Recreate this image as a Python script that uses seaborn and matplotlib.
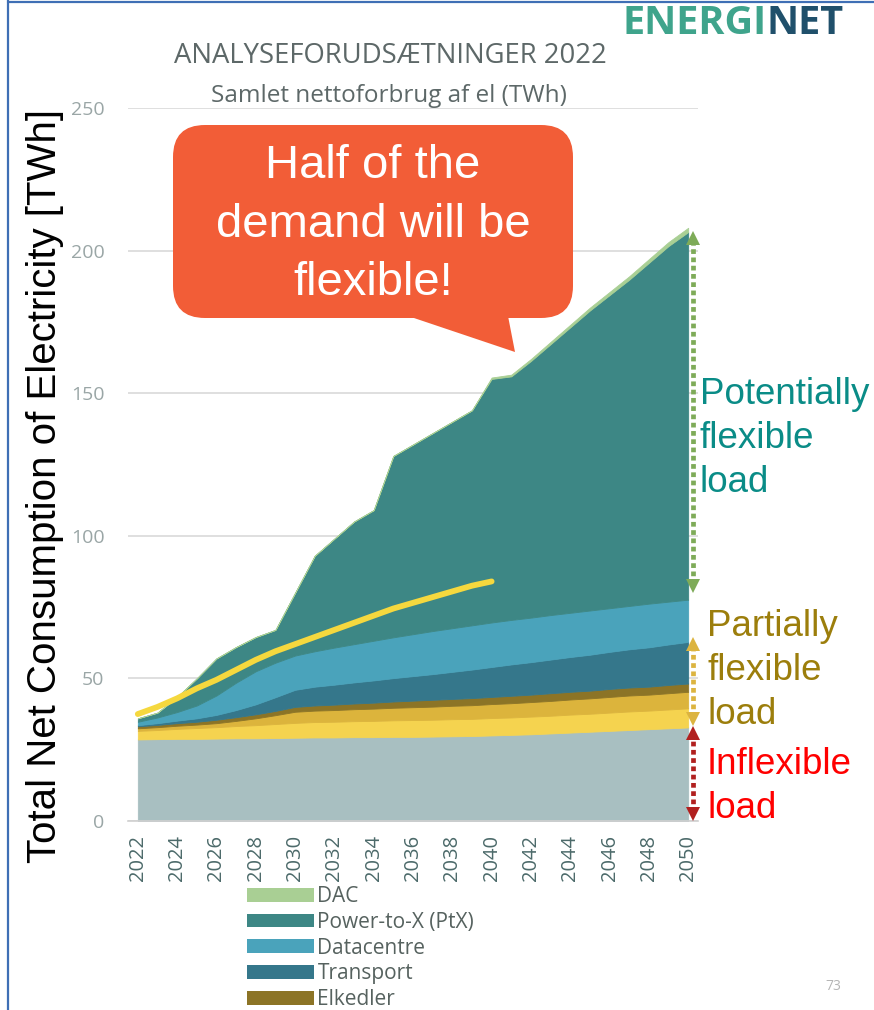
import matplotlib
matplotlib.use("Agg")
import matplotlib.pyplot as plt
import seaborn as sns
import pandas as pd
from matplotlib.patches import FancyBboxPatch, Polygon, Patch
from matplotlib.ticker import FixedLocator

# ---------------- data (TWh) ----------------
years = list(range(2022, 2051))
klassisk = [28.6, 28.7, 28.8, 28.8, 28.9, 29.0, 29.0, 29.1, 29.2, 29.3, 29.3, 29.4, 29.4, 29.5, 29.5,
            29.6, 29.7, 29.8, 30.0, 30.2, 30.4, 30.7, 31.0, 31.3, 31.6, 31.9, 32.2, 32.5, 32.8]
ind_varmepumper = [3.0, 3.2, 3.5, 3.8, 4.0, 4.3, 4.6, 4.9, 5.2, 5.4, 5.5, 5.6, 5.7, 5.8, 5.9,
                   5.9, 6.0, 6.0, 6.1, 6.1, 6.2, 6.2, 6.3, 6.3, 6.4, 6.5, 6.5, 6.6, 6.7]
fjv_varmepumper = [0.9, 1.0, 1.1, 1.2, 1.4, 1.8, 2.4, 3.1, 3.9, 4.0, 4.1, 4.2, 4.3, 4.4, 4.5,
                   4.6, 4.7, 4.8, 4.9, 5.0, 5.1, 5.2, 5.3, 5.4, 5.5, 5.6, 5.6, 5.7, 5.8]
elkedler = [0.7, 0.8, 0.9, 1.0, 1.2, 1.3, 1.4, 1.5, 1.7, 1.8, 1.9, 2.0, 2.1, 2.2, 2.3,
            2.4, 2.4, 2.5, 2.5, 2.6, 2.6, 2.7, 2.7, 2.7, 2.8, 2.8, 2.8, 2.9, 2.9]
transport = [0.4, 0.6, 0.9, 1.2, 1.7, 2.5, 3.5, 4.8, 6.0, 6.6, 7.0, 7.4, 7.8, 8.2, 8.6,
             9.0, 9.5, 10.0, 10.5, 11.0, 11.4, 11.8, 12.2, 12.6, 13.0, 13.4, 13.8, 14.2, 14.6]
datacentre = [1.2, 2.0, 3.0, 4.5, 6.8, 9.6, 11.6, 12.1, 12.0, 12.4, 13.0, 13.4, 13.9, 14.3, 14.7,
              15.1, 15.3, 15.5, 15.6, 15.6, 15.6, 15.6, 15.5, 15.5, 15.3, 15.2, 15.3, 15.0, 14.8]
ptx = [1.2, 1.7, 5.3, 9.5, 13.0, 12.5, 12.0, 11.5, 22.0, 33.5, 38.2, 43.0, 45.8, 63.6, 66.5,
       69.4, 72.4, 75.4, 85.4, 85.4, 90.0, 95.0, 100.1, 105.2, 109.8, 114.4, 119.5, 124.7, 128.9]
dac = [0.0, 0.0, 0.0, 0.0, 0.0, 0.0, 0.0, 0.0, 0.0, 0.0, 0.0, 0.0, 0.0, 0.0, 0.0,
       0.0, 0.0, 0.0, 0.5, 0.6, 0.7, 0.8, 0.9, 1.0, 1.1, 1.2, 1.3, 1.4, 1.5]

line_years = list(range(2022, 2041))
line_values = [37.5, 40.0, 43.0, 46.5, 49.5, 53.0, 56.5, 59.5, 62.0, 64.5, 67.0, 69.5,
               72.0, 74.5, 76.5, 78.5, 80.5, 82.5, 84.0]

layer_names = ["Klassisk forbrug", "Individuelle varmepumper", "Fjernvarme varmepumper",
               "Elkedler", "Transport", "Datacentre", "Power-to-X (PtX)", "DAC"]
layer_colors = ["#a8bfc1", "#f5d34f", "#dcb43c", "#8c7426", "#35778b", "#4aa3bb", "#3d8785", "#a9cf94"]
legend_names = ["DAC", "Power-to-X (PtX)", "Datacentre", "Transport", "Elkedler"]
xtick_years = list(range(2022, 2051, 2))
ytick_vals = [0, 50, 100, 150, 200, 250]

# ---------------- style ----------------
sns.set_theme(style="white")
plt.rcParams["font.family"] = ["Open Sans", "DejaVu Sans"]

W, H = 874, 1010
fig = plt.figure(figsize=(W / 100, H / 100), dpi=100)
fig.patch.set_facecolor("white")

def fx(px):
    return px / W

def fy(py):
    return 1 - py / H

ax = fig.add_axes([fx(128), fy(821), fx(698) - fx(128), fy(108) - fy(821)])
ax.set_facecolor("white")

layers = [klassisk, ind_varmepumper, fjv_varmepumper, elkedler, transport, datacentre, ptx, dac]
stack = ax.stackplot(years, *layers, colors=layer_colors, labels=layer_names, zorder=2)
for poly, c in zip(stack, layer_colors):
    poly.set_edgecolor(c)
    poly.set_linewidth(0.6)

df_line = pd.DataFrame({"year": line_years, "value": line_values})
sns.lineplot(data=df_line, x="year", y="value", ax=ax, color="#f5d83e", linewidth=4.2,
             solid_capstyle="round", zorder=4, legend=False)

ax.set_xlim(2021.5, 2050.5)
ax.set_ylim(0, 250)
ax.set_xlabel("")
ax.set_ylabel("")

ax.set_xticks(xtick_years)
ax.set_xticklabels([str(y) for y in xtick_years], rotation=90, color="#4c6a6a", fontsize=14.5)
ax.xaxis.set_minor_locator(FixedLocator([2021.5 + k for k in range(30)]))
ax.tick_params(axis="x", which="major", length=0, pad=10)
ax.tick_params(axis="x", which="minor", length=7, width=1, color="#cfcfcf", direction="out")
ax.set_yticks(ytick_vals)
ax.set_yticklabels([str(v) for v in ytick_vals], color="#9aa6a6", fontsize=14)
ax.tick_params(axis="y", length=0, pad=17)

ax.grid(axis="y", color="#d9d9d9", linewidth=1.2)
ax.grid(axis="x", visible=False)
ax.set_axisbelow(True)
for s in ["left", "right", "top"]:
    ax.spines[s].set_visible(False)
ax.spines["bottom"].set_color("#d0d0d0")
ax.spines["bottom"].set_linewidth(1.2)

# flexibility range arrows (data coordinates, right edge of chart)
xa = 2050.27
def dotted_arrow(y_top, y_bot, color):
    ax.plot([xa, xa], [y_bot + 2.5, y_top - 2.5], color=color, lw=3.4,
            linestyle=(0, (1.0, 0.75)), dash_capstyle="butt", clip_on=False, zorder=6)
    ax.plot([xa], [y_top - 2.0], marker="^", ms=10, color=color, clip_on=False, zorder=7,
            markeredgewidth=0)
    ax.plot([xa], [y_bot + 2.0], marker="v", ms=10, color=color, clip_on=False, zorder=7,
            markeredgewidth=0)

dotted_arrow(206.5, 80.5, "#7eab58")
dotted_arrow(64.0, 33.8, "#dcb440")
dotted_arrow(32.8, 0.6, "#b1201f")

# ---------------- overlay in pixel coordinates ----------------
ov = fig.add_axes([0, 0, 1, 1], zorder=10)
ov.set_xlim(0, W)
ov.set_ylim(H, 0)
ov.axis("off")
ov.patch.set_alpha(0)

# frame lines
ov.plot([8, 8], [0, H], color="#3f6fb5", lw=1.6)
ov.plot([8, W], [2, 2], color="#3f6fb5", lw=1.6)

# header
ov.text(767, 23, "ENERGI", color="#3fa48c", fontsize=28.5, fontweight="bold", ha="right",
        va="center", family=["Open Sans", "DejaVu Sans"])
ov.text(767, 23, "NET", color="#20506b", fontsize=28.5, fontweight="bold", ha="left",
        va="center", family=["Open Sans", "DejaVu Sans"])
ov.text(390, 56, "ANALYSEFORUDSÆTNINGER 2022", color="#5d6868", fontsize=19.8, ha="center",
        va="center")
ov.text(389, 96, "Samlet nettoforbrug af el (TWh)", color="#5d6868", fontsize=17.5, ha="center",
        va="center")

# y label
ov.text(45, 486, "Total Net Consumption of Electricity [TWh]", rotation=90, fontsize=29,
        ha="center", va="center", color="black", family=["Liberation Sans", "DejaVu Sans"])

# callout
ov.add_patch(FancyBboxPatch((173, 125), 400, 193, boxstyle="round,pad=0,rounding_size=32",
                            fc="#f25d37", ec="none"))
ov.add_patch(Polygon([(408, 316), (508, 316), (515, 352)], closed=True, fc="#f25d37", ec="none"))
for txt, yy in [("Half of the", 166), ("demand will be", 225), ("flexible!", 283)]:
    ov.text(373, yy, txt, color="white", fontsize=34, ha="center", va="center",
            family=["Liberation Sans", "DejaVu Sans"])

# right side annotations
for txt, yy in [("Potentially", 394), ("flexible", 439), ("load", 483)]:
    ov.text(700, yy, txt, color="#0a8c87", fontsize=26.5, ha="left", va="center",
            family=["Liberation Sans", "DejaVu Sans"])
for txt, yy in [("Partially", 627), ("flexible", 671), ("load", 715)]:
    ov.text(707, yy, txt, color="#9c7e0c", fontsize=26.5, ha="left", va="center",
            family=["Liberation Sans", "DejaVu Sans"])
for txt, yy in [("Inflexible", 765), ("load", 808)]:
    ov.text(707, yy, txt, color="#ff0000", fontsize=26.5, ha="left", va="center",
            family=["Liberation Sans", "DejaVu Sans"])

# page number
ov.text(833, 987, "73", color="#b5b5b5", fontsize=10, ha="center", va="center")

# legend (top five series)
name_to_color = dict(zip(layer_names, layer_colors))
handles = [Patch(facecolor=name_to_color[n], edgecolor="none", label=n) for n in legend_names]
leg = fig.legend(handles=handles, loc="upper left", bbox_to_anchor=(fx(247), fy(886)),
                 frameon=False, fontsize=15, handlelength=3.2, handleheight=0.65,
                 handletextpad=0.18, labelspacing=0.23, borderaxespad=0, borderpad=0)
for t in leg.get_texts():
    t.set_color("#56625f")

fig.savefig("out.png", dpi=100, facecolor="white")
